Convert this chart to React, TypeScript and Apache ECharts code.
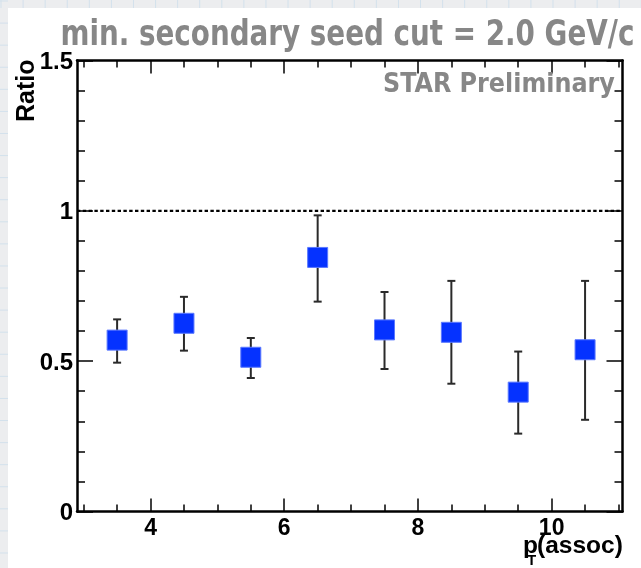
import React, { useEffect, useRef } from "react";
import * as echarts from "echarts";

const xCenters = [3.5, 4.5, 5.5, 6.5, 7.5, 8.5, 9.5, 10.5];
const ratioValues = [0.57, 0.626, 0.513, 0.845, 0.604, 0.596, 0.397, 0.538];
const errorLow = [0.495, 0.535, 0.444, 0.698, 0.474, 0.425, 0.259, 0.305];
const errorHigh = [0.639, 0.714, 0.577, 0.985, 0.73, 0.767, 0.532, 0.767];
const xMajorTicks = [4, 6, 8, 10];
const xMinorTicks = [3, 3.5, 4.5, 5, 5.5, 6.5, 7, 7.5, 8.5, 9, 9.5, 10.5, 11];
const yMin = 0;
const yMax = 1.5;
const yInterval = 0.5;
const xMin = 2.9;
const xMax = 11.06;
const referenceLevel = 1;
const titleText = "min. secondary seed cut = 2.0 GeV/c";
const watermarkText = "STAR Preliminary";
const yAxisTitle = "Ratio";

const W = 641;
const H = 568;
const LABEL_FONT = '"Liberation Sans", Arial, Helvetica, sans-serif';
const HAND_FONT = '"DejaVu Sans Condensed", "DejaVu Sans", sans-serif';

function measure(text: string, font: string): number {
  const ctx = document.createElement("canvas").getContext("2d");
  if (!ctx) return 100;
  ctx.font = font;
  return ctx.measureText(text).width;
}

export default function App() {
  const ref = useRef<HTMLDivElement>(null);

  useEffect(() => {
    if (!ref.current) return;
    const chart = echarts.init(ref.current, undefined, { renderer: "svg" });

    const titleSize = 36;
    const titleW = measure(titleText, `bold ${titleSize}px ${HAND_FONT}`);
    const titleScale = 574 / titleW;
    const starSize = 27;
    const starW = measure(watermarkText, `bold ${starSize}px ${HAND_FONT}`);
    const starScale = 232 / starW;

    const bgLines: any[] = [];
    for (let k = 0; k * 22.08 < H; k++) {
      const y = 1 + k * 22.08;
      bgLines.push({
        type: "line",
        shape: { x1: 0, y1: y, x2: 8, y2: y },
        style: { stroke: "#d3e1ec", lineWidth: 1 },
        silent: true,
      });
    }
    for (let k = 0; k * 22.08 < W; k++) {
      const x = 1 + k * 22.08;
      bgLines.push({
        type: "line",
        shape: { x1: x, y1: 0, x2: x, y2: 8 },
        style: { stroke: "#d3e1ec", lineWidth: 1 },
        silent: true,
      });
    }

    const axisLineStyle = { color: "#000", width: 2.5 };
    const baseX = {
      type: "value",
      min: xMin,
      max: xMax,
      splitLine: { show: false },
    };
    const baseY = {
      type: "value",
      min: yMin,
      max: yMax,
      interval: yInterval,
      splitLine: { show: false },
    };

    const errData = xCenters.map((x, i) => [x, errorLow[i], errorHigh[i]]);
    const pointData = xCenters.map((x, i) => [x, ratioValues[i]]);

    const option: any = {
      animation: false,
      backgroundColor: "transparent",
      grid: { left: 77, right: 18.5, top: 60.5, bottom: 56.5, containLabel: false },
      xAxis: [
        {
          ...baseX,
          position: "bottom",
          axisLine: { show: true, lineStyle: axisLineStyle },
          axisTick: {
            show: true,
            inside: true,
            length: 13,
            customValues: xMajorTicks,
            lineStyle: { color: "#000", width: 1.5 },
          },
          axisLabel: {
            show: true,
            customValues: xMajorTicks,
            formatter: (v: number) => String(v),
            fontFamily: LABEL_FONT,
            fontWeight: "bold",
            fontSize: 23,
            lineHeight: 20,
            color: "#000",
            margin: 5,
          },
        },
        {
          ...baseX,
          position: "bottom",
          axisLine: { show: false },
          axisTick: {
            show: true,
            inside: true,
            length: 7,
            customValues: xMinorTicks,
            lineStyle: { color: "#000", width: 1.5 },
          },
          axisLabel: { show: false },
        },
        {
          ...baseX,
          position: "top",
          axisLine: { show: true, lineStyle: axisLineStyle },
          axisTick: {
            show: true,
            inside: true,
            length: 13,
            customValues: xMajorTicks,
            lineStyle: { color: "#000", width: 1.5 },
          },
          axisLabel: { show: false },
        },
        {
          ...baseX,
          position: "top",
          axisLine: { show: false },
          axisTick: {
            show: true,
            inside: true,
            length: 7,
            customValues: xMinorTicks,
            lineStyle: { color: "#000", width: 1.5 },
          },
          axisLabel: { show: false },
        },
      ],
      yAxis: [
        {
          ...baseY,
          position: "left",
          axisLine: { show: true, lineStyle: axisLineStyle },
          axisTick: { show: true, inside: true, length: 16, lineStyle: { color: "#000", width: 1.5 } },
          minorTick: { show: true, splitNumber: 5, length: 8, lineStyle: { color: "#000", width: 1.5 } },
          axisLabel: {
            show: true,
            fontFamily: LABEL_FONT,
            fontWeight: "bold",
            fontSize: 24,
            color: "#000",
            margin: 4,
            padding: [8, 0, 0, 0],
            formatter: (v: number) => String(v),
          },
        },
        {
          ...baseY,
          position: "right",
          axisLine: { show: true, lineStyle: axisLineStyle },
          axisTick: { show: true, inside: true, length: 16, lineStyle: { color: "#000", width: 1.5 } },
          minorTick: { show: true, splitNumber: 5, length: 8, lineStyle: { color: "#000", width: 1.5 } },
          axisLabel: { show: false },
        },
      ],
      graphic: [
        { type: "rect", shape: { x: 0, y: 0, width: W, height: H }, style: { fill: "#ecedef" }, z: -10, silent: true },
        ...bgLines.map((l) => ({ ...l, z: -9 })),
        { type: "rect", shape: { x: 8, y: 8, width: W - 8, height: H - 8 }, style: { fill: "#ffffff" }, z: -8, silent: true },
        {
          type: "text",
          x: 60.5,
          y: 33,
          scaleX: titleScale,
          style: {
            text: titleText,
            font: `bold ${titleSize}px ${HAND_FONT}`,
            fill: "#878787",
            align: "left",
            verticalAlign: "middle",
          },
          z: 10,
        },
        {
          type: "text",
          x: 383,
          y: 82,
          scaleX: starScale,
          style: {
            text: watermarkText,
            font: `bold ${starSize}px ${HAND_FONT}`,
            fill: "#878787",
            align: "left",
            verticalAlign: "middle",
          },
          z: 10,
        },
        {
          type: "text",
          x: 25,
          y: 122,
          rotation: Math.PI / 2,
          style: {
            text: yAxisTitle,
            font: `bold 25px ${LABEL_FONT}`,
            fill: "#000",
            align: "left",
            verticalAlign: "middle",
          },
          z: 10,
        },
        {
          type: "text",
          x: 523,
          y: 544,
          style: {
            text: "p",
            font: `bold 24.5px ${LABEL_FONT}`,
            lineHeight: 16,
            fill: "#000",
            align: "left",
            verticalAlign: "middle",
          },
          z: 10,
        },
        {
          type: "text",
          x: 527,
          y: 559,
          style: {
            text: "T",
            font: `bold 15px ${LABEL_FONT}`,
            lineHeight: 12,
            fill: "#000",
            align: "left",
            verticalAlign: "middle",
          },
          z: 10,
        },
        {
          type: "text",
          x: 537,
          y: 544,
          style: {
            text: "(assoc)",
            font: `bold 24.5px ${LABEL_FONT}`,
            lineHeight: 16,
            fill: "#000",
            align: "left",
            verticalAlign: "middle",
          },
          z: 10,
        },
      ],
      series: [
        {
          type: "line",
          xAxisIndex: 0,
          yAxisIndex: 0,
          data: [
            [xMin, referenceLevel],
            [xMax, referenceLevel],
          ],
          symbol: "none",
          lineStyle: { color: "#000", width: 2.2, type: [3.4, 2.4] },
          z: 1,
          silent: true,
        },
        {
          type: "custom",
          xAxisIndex: 0,
          yAxisIndex: 0,
          data: errData,
          z: 2,
          silent: true,
          renderItem: (params: any, api: any) => {
            const x = api.value(0);
            const lo = api.coord([x, api.value(1)]);
            const hi = api.coord([x, api.value(2)]);
            const cap = 4;
            const st = { stroke: "#2a2a2a", lineWidth: 2 };
            return {
              type: "group",
              children: [
                { type: "line", shape: { x1: lo[0], y1: lo[1], x2: hi[0], y2: hi[1] }, style: st },
                { type: "line", shape: { x1: lo[0] - cap, y1: lo[1], x2: lo[0] + cap, y2: lo[1] }, style: st },
                { type: "line", shape: { x1: hi[0] - cap, y1: hi[1], x2: hi[0] + cap, y2: hi[1] }, style: st },
              ],
            };
          },
        },
        {
          type: "scatter",
          xAxisIndex: 0,
          yAxisIndex: 0,
          data: pointData,
          symbol: "rect",
          symbolSize: 20,
          itemStyle: { color: "#0532ff", borderColor: "#5a78ff", borderWidth: 1, opacity: 1 },
          z: 3,
          silent: true,
        },
      ],
    };

    chart.setOption(option);
    return () => chart.dispose();
  }, []);

  return (
    <div
      ref={ref}
      style={{ position: "fixed", left: 0, top: 0, width: W, height: H }}
    />
  );
}
